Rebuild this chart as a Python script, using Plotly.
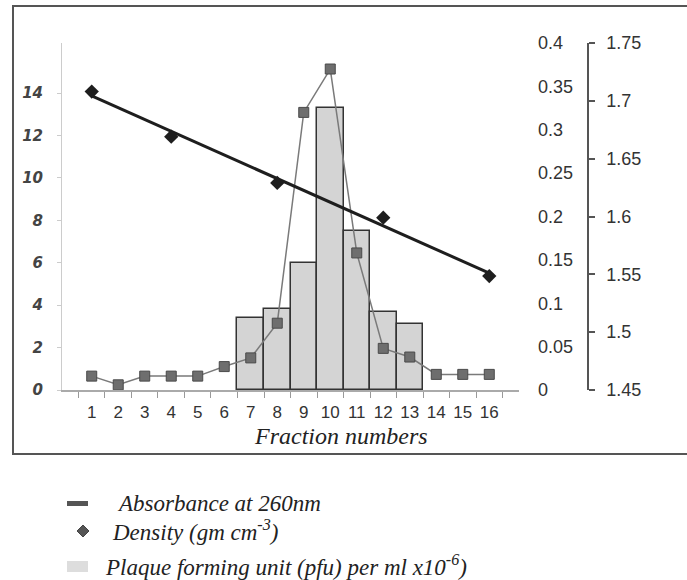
import numpy as np
import plotly.graph_objects as go

fractions = [str(i) for i in range(1, 17)]
pfu = [None, None, None, None, None, None, 3.4, 3.8, 6.0, 13.3, 7.5, 3.7, 3.1,
       None, None, None]
absorbance = [0.016, 0.006, 0.016, 0.016, 0.016, 0.027, 0.037, 0.077,
              0.32, 0.37, 0.158, 0.048, 0.038, 0.018, 0.018, 0.018]
density_fracs = ["1", "4", "8", "12", "16"]
density = [1.708, 1.669, 1.629, 1.599, 1.5485]
left_ticks = [0, 2, 4, 6, 8, 10, 12, 14]
abs_ticks = [0, 0.05, 0.1, 0.15, 0.2, 0.25, 0.3, 0.35, 0.4]
abs_labels = ["0", "0.05", "0.1", "0.15", "0.2", "0.25", "0.3", "0.35", "0.4"]
dens_ticks = [1.45, 1.5, 1.55, 1.6, 1.65, 1.7, 1.75]
dens_labels = ["1.45", "1.5", "1.55", "1.6", "1.65", "1.7", "1.75"]

# linear trendline of density
dx = np.array([int(f) for f in density_fracs], dtype=float)
slope, inter = np.polyfit(dx, np.array(density), 1)
trend_x = ["1", "16"]
trend_y = [inter + slope * 1, inter + slope * 16]

W, H = 687, 580
L, R, T, B = 62, 590, 43, 390


def px(x):
    return (x - L) / (R - L)


def py(y):
    return (B - y) / (B - T)


fig = go.Figure()
fig.add_trace(go.Bar(x=fractions, y=pfu, yaxis="y",
                     marker=dict(color="#d4d4d4", line=dict(color="#333333", width=1.5)),
                     showlegend=False))
fig.add_trace(go.Scatter(x=fractions, y=absorbance, yaxis="y2", mode="lines+markers",
                         line=dict(color="#7a7a7a", width=1.5),
                         marker=dict(symbol="square", size=10, color="#6e6e6e",
                                     line=dict(color="#4a4a4a", width=1)),
                         showlegend=False))
fig.add_trace(go.Scatter(x=trend_x, y=trend_y, yaxis="y3", mode="lines",
                         line=dict(color="#1e1e1e", width=3), showlegend=False))
fig.add_trace(go.Scatter(x=density_fracs, y=density, yaxis="y3", mode="markers",
                         marker=dict(symbol="diamond", size=11, color="#1e1e1e"),
                         showlegend=False))

shapes = [
    dict(type="rect", xref="paper", yref="paper", x0=px(13), x1=px(700), y0=py(454), y1=py(6),
         line=dict(color="#555555", width=2), fillcolor="rgba(0,0,0,0)", layer="below"),
    dict(type="rect", xref="paper", yref="paper", x0=px(67), x1=px(88), y0=py(506), y1=py(501),
         line=dict(width=0), fillcolor="#555555"),
    dict(type="rect", xref="paper", yref="paper", x0=px(67), x1=px(88), y0=py(572), y1=py(561),
         line=dict(width=0), fillcolor="#dddddd"),
]
cx, cy = px(83), py(531)
ddx, ddy = 6 / (R - L), 6 / (B - T)
shapes.append(dict(type="path", xref="paper", yref="paper",
                   path=f"M {cx-ddx},{cy} L {cx},{cy+ddy} L {cx+ddx},{cy} L {cx},{cy-ddy} Z",
                   fillcolor="#555555", line=dict(color="#444444", width=1)))

legfont = dict(family="Liberation Serif", size=23, color="#222222", style="italic")
annotations = [
    dict(xref="paper", yref="paper", x=px(341), y=py(436), text="Fraction numbers",
         showarrow=False, xanchor="center", yanchor="middle",
         font=dict(family="Liberation Serif", size=24, color="#222222", style="italic")),
    dict(xref="paper", yref="paper", x=px(115), y=py(503), text="Absorbance at 260nm",
         showarrow=False, xanchor="left", yanchor="middle", font=legfont),
    dict(xref="paper", yref="paper", x=px(110), y=py(530), text="Density (gm cm<sup>-3</sup>)",
         showarrow=False, xanchor="left", yanchor="middle", font=legfont),
    dict(xref="paper", yref="paper", x=px(103), y=py(565),
         text="Plaque forming unit (pfu) per ml x10<sup>-6</sup>)",
         showarrow=False, xanchor="left", yanchor="middle", font=legfont),
]

fig.update_layout(
    width=W, height=H,
    margin=dict(l=L, r=W - R, t=T, b=H - B, pad=0),
    paper_bgcolor="white", plot_bgcolor="white",
    bargap=0,
    showlegend=False,
    shapes=shapes,
    annotations=annotations,
    xaxis=dict(domain=[0, px(519)], type="category", tickson="boundaries",
               ticks="outside", ticklen=6, tickcolor="#999999", tickangle=0,
               showline=True, linecolor="#aaaaaa", linewidth=1.5,
               tickfont=dict(family="Liberation Sans", size=17, color="#333333"),
               ticklabelstandoff=6, showgrid=False, zeroline=False),
    yaxis=dict(range=[0, 16.36], tickvals=left_ticks, showgrid=False, zeroline=False,
               showline=True, linecolor="#cccccc", linewidth=1,
               ticks="outside", ticklen=4, tickcolor="#cccccc",
               tickfont=dict(family="DejaVu Sans", size=15, color="#444444",
                             weight="bold", style="italic"),
               ticklabelstandoff=11),
    yaxis2=dict(range=[0, 0.4], tickvals=abs_ticks, ticktext=abs_labels, overlaying="y",
                side="right", anchor="free", position=px(537), showgrid=False,
                zeroline=False, showline=False, ticks="",
                tickfont=dict(family="Liberation Sans", size=18, color="#333333")),
    yaxis3=dict(range=[1.45, 1.75], tickvals=dens_ticks, ticktext=dens_labels,
                overlaying="y", side="right", anchor="free", position=px(588),
                showgrid=False, zeroline=False, showline=True, linecolor="#555555",
                linewidth=1.5, ticks="outside", ticklen=6, tickcolor="#555555",
                tickwidth=1.5, ticklabelstandoff=8,
                tickfont=dict(family="Liberation Sans", size=18, color="#333333")),
)

fig.write_html("out.html", config={"displayModeBar": False},
               post_script="document.body.style.margin='0';")
